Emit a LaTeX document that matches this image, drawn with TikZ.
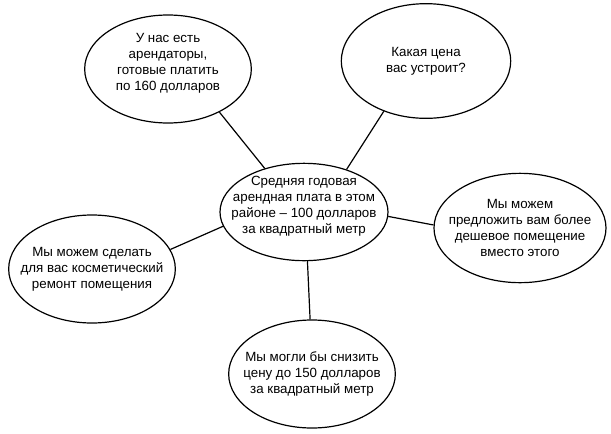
\documentclass[tikz,border=0pt]{standalone}
\usepackage{fontspec}
\setmainfont{Liberation Sans}
\usetikzlibrary{shapes.geometric}
\tikzset{bubble/.style 2 args = {
    ellipse,
    draw,
    minimum width = #1,
    minimum height = #2,
    inner xsep = -16pt,
    inner ysep = -12pt,
    align = center,
}}
\tikzset{raised/.style = {text depth = 10pt}}

\begin{document}
\begin{tikzpicture}[x=0.75pt,y=-0.75pt,line width=0.9pt]
  \fontsize{10}{12}\selectfont
  \useasboundingbox (0,0) rectangle (611,433);
  \node[bubble={125pt}{81pt},raised](tl) at (168, 69) {У нас есть\\арендаторы,\\готовые платить\\по 160 долларов};
  \node[bubble={127pt}{86pt}](tr) at (426, 61) {Какая цена\\вас устроит?};
  \node[bubble={126pt}{73pt},raised](c)  at (304,212) {Средняя годовая\\арендная плата в этом\\районе -- 100 долларов\\за квадратный метр};
  \node[bubble={129pt}{82pt}](r)  at (520,228) {Мы можем\\предложить вам более\\дешевое помещение\\вместо этого};
  \node[bubble={125pt}{81pt}](l)  at ( 92,269) {Мы можем сделать\\для вас косметический\\ремонт помещения};
  \node[bubble={125pt}{81pt}](b)  at (312,374) {Мы могли бы снизить\\цену до 150 долларов\\за квадратный метр};
  \draw(tl.-40) -- (c.132);
  \draw(tr.-130) -- (c.45);
  \draw(c.-3) -- (r.178);
  \draw(c.190) -- (l.14);
  \draw(c.-86.5) -- (b.92);
\end{tikzpicture}
\end{document}
